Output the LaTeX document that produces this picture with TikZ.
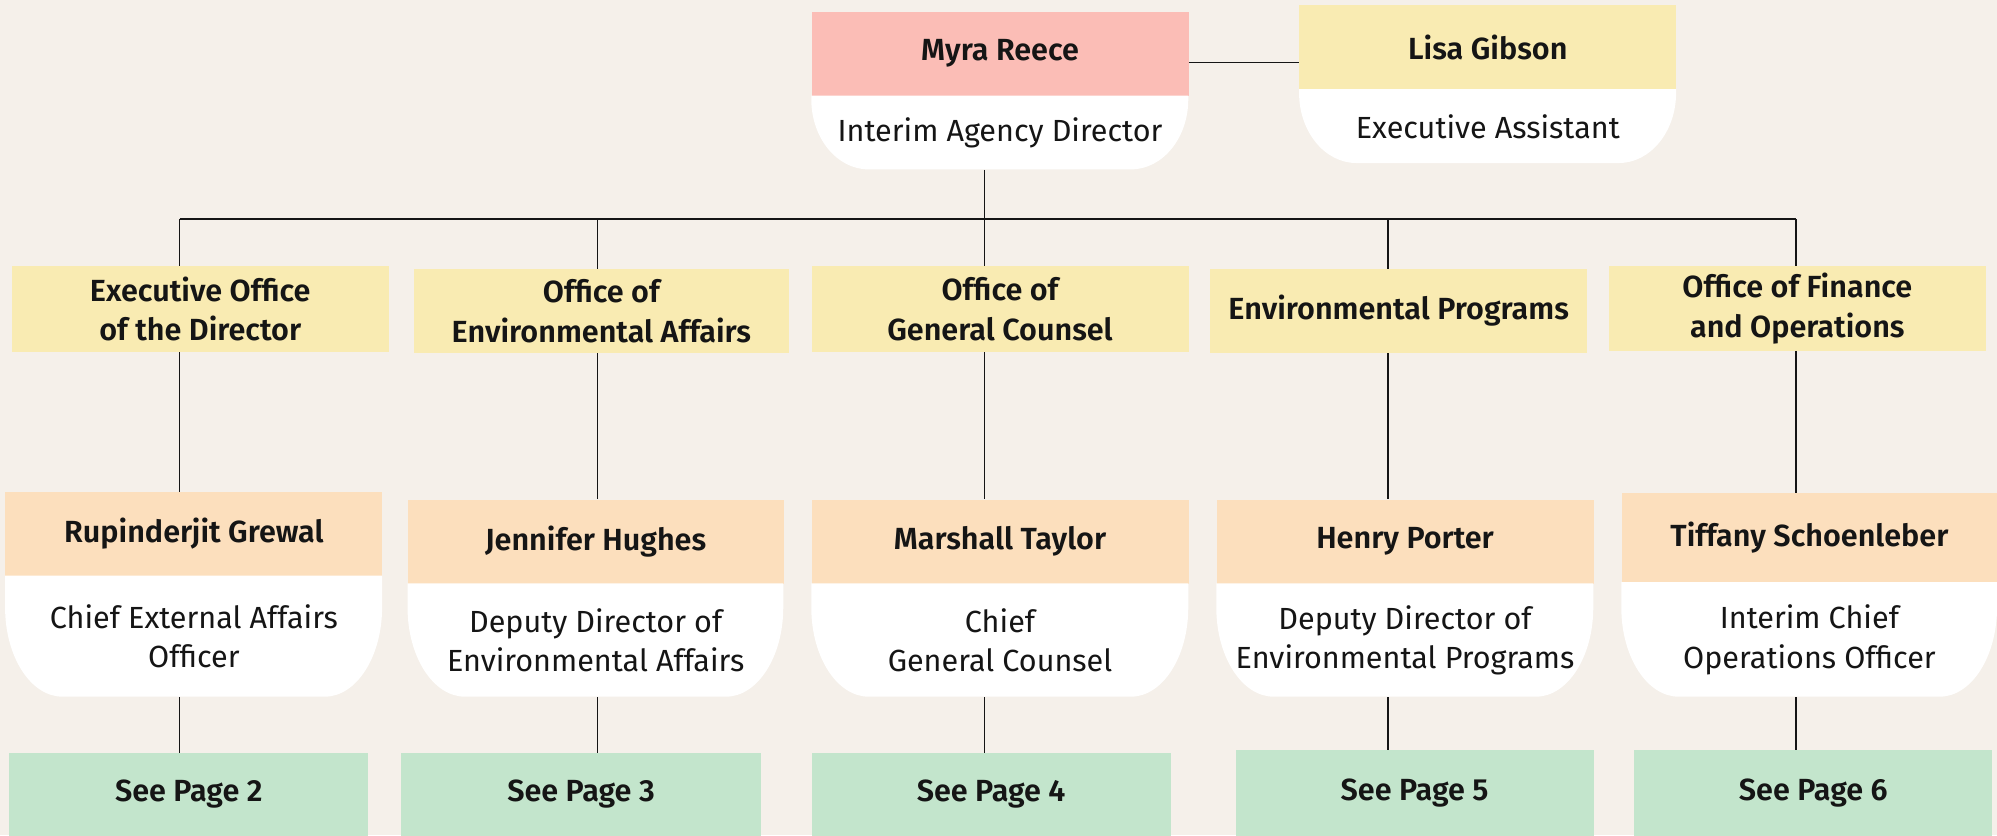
\documentclass[tikz,border=0pt]{standalone}
\usepackage{fontspec}
\setmainfont{Fira Sans}[BoldFont={Fira Sans SemiBold}]
\definecolor{bg}{HTML}{F5F0EA}
\definecolor{cpink}{HTML}{FBBDB6}
\definecolor{cyellow}{HTML}{F9EBB2}
\definecolor{cpeach}{HTML}{FCDFBD}
\definecolor{cgreen}{HTML}{C3E5CC}
\definecolor{ink}{HTML}{151515}
\tikzset{
  conn/.style={draw=ink, line width=1.2pt},
  headbox/.style={inner sep=0pt, anchor=north west, align=center, text=ink,
     font=\fontsize{24}{31}\selectfont\bfseries},
  subbox/.style={inner sep=0pt, anchor=north west, align=center, text=ink,
     font=\fontsize{24}{31}\selectfont},
}
\newcommand\orgcard[9]{%
  \node[headbox, fill=#7, minimum width={#3-#2}, minimum height={#5-#4}] (#1) at (#2,#4) {#8};
  \pgfmathsetmacro\cry{min(70,#6-#5-3)}%
  \pgfmathsetmacro\crx{45}%
  \fill[white] (#2,#5) -- (#3,#5) -- (#3,{#6-\cry})
     .. controls (#3,{#6-\cry+0.552*\cry}) and ({#3-\crx+0.552*\crx},#6) .. ({#3-\crx},#6)
     -- ({#2+\crx},#6)
     .. controls ({#2+\crx-0.552*\crx},#6) and (#2,{#6-\cry+0.552*\cry}) .. (#2,{#6-\cry}) -- cycle;
  \node[subbox, minimum width={#3-#2}, minimum height={#6-#5}] (#1w) at (#2,#5) {#9};
}
\newcommand\plainbox[7]{%
  \node[headbox, fill=#6, minimum width={#3-#2}, minimum height={#5-#4}] (#1) at (#2,#4) {#7};
}
\begin{document}
\begin{tikzpicture}[x=1pt,y=-1pt]
\fill[bg] (0,0) rectangle (1568,656);
\useasboundingbox (0,0) rectangle (1568,656);
% column coordinates on the bus
\coordinate (c1) at (141,172);
\coordinate (c2) at (469,172);
\coordinate (c3) at (773,172);
\coordinate (c4) at (1090,172);
\coordinate (c5) at (1410,172);
% top
\orgcard{myra}{637}{933}{9}{75}{133}{cpink}{Myra Reece}{Interim Agency Director}
\orgcard{lisa}{1020}{1316}{4}{70}{128}{cyellow}{Lisa Gibson}{Executive Assistant}
% departments
\plainbox{d1}{9}{305}{209}{276}{cyellow}{Executive Office\\of the Director}
\plainbox{d2}{325}{619}{211}{277}{cyellow}{Office of\\Environmental Affairs}
\plainbox{d3}{637}{933}{209}{276}{cyellow}{Office of\\General Counsel}
\plainbox{d4}{950}{1246}{211}{277}{cyellow}{Environmental Programs}
\plainbox{d5}{1263}{1559}{209}{275}{cyellow}{Office of Finance\\and Operations}
% people
\orgcard{p1}{4}{300}{386}{452}{547}{cpeach}{Rupinderjit Grewal}{Chief External Affairs\\Officer}
\orgcard{p2}{320}{615}{392}{458}{547}{cpeach}{Jennifer Hughes}{Deputy Director of\\Environmental Affairs}
\orgcard{p3}{637}{933}{392}{458}{547}{cpeach}{Marshall Taylor}{Chief\\General Counsel}
\orgcard{p4}{955}{1251}{392}{458}{547}{cpeach}{Henry Porter}{Deputy Director of\\Environmental Programs}
\orgcard{p5}{1273}{1568}{387}{457}{547}{cpeach}{Tiffany Schoenleber}{Interim Chief\\Operations Officer}
% pages
\plainbox{g1}{7}{289}{591}{656}{cgreen}{See Page 2}
\plainbox{g2}{315}{597}{591}{656}{cgreen}{See Page 3}
\plainbox{g3}{637}{919}{591}{656}{cgreen}{See Page 4}
\plainbox{g4}{970}{1251}{589}{656}{cgreen}{See Page 5}
\plainbox{g5}{1283}{1564}{589}{656}{cgreen}{See Page 6}
% connectors
\draw[conn] ([yshift=-7pt]myra.east) -- ([yshift=-7pt]myra.east -| lisa.west);
\draw[conn] (c3 |- myraw.south) -- (c3);
\draw[conn] (c1) -- (c5);
\foreach \i in {1,...,5}{
  \draw[conn] (c\i) -- (c\i |- d\i.north);
  \draw[conn] (c\i |- d\i.south) -- (c\i |- p\i.north);
  \draw[conn] (c\i |- p\i w.south) -- (c\i |- g\i.north);
}
\end{tikzpicture}
\end{document}
